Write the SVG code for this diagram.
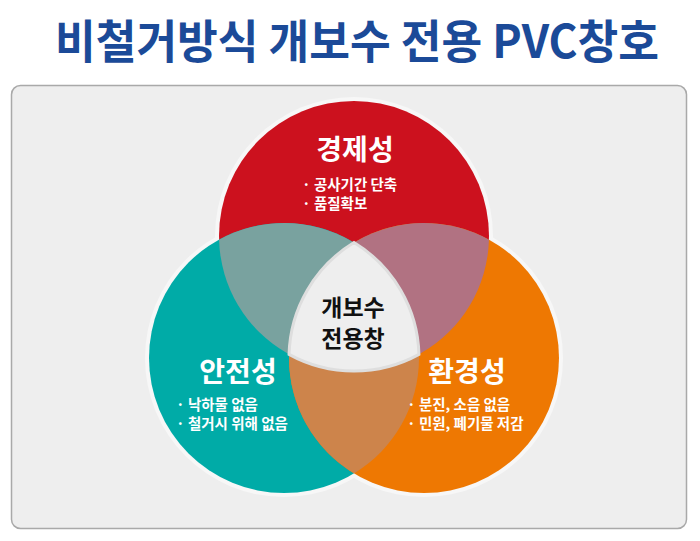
<svg xmlns="http://www.w3.org/2000/svg" width="700" height="541" viewBox="0 0 700 541">
<style>
.t{font-family:"Noto Sans CJK KR","Noto Sans",sans-serif;font-weight:bold}
.h{fill:#fff;font-size:28px;text-anchor:middle}
.b{fill:#fff;font-size:14.5px}
.c{fill:#111;font-size:23px;text-anchor:middle}
.halo{fill:#f7f7f7}
</style>
<rect width="700" height="541" fill="#fff"/>
<text class="t" x="357" y="58" font-size="46" fill="#1b4a98" text-anchor="middle" textLength="604" lengthAdjust="spacingAndGlyphs">비철거방식 개보수 전용 PVC창호</text>
<rect x="11.5" y="85.5" width="675" height="443" rx="9" fill="#eeeeee" stroke="#a9a9a9" stroke-width="1.5"/>
<g id="halo">
<circle class="halo" cx="354" cy="236" r="139"/>
<circle class="halo" cx="284" cy="358" r="139"/>
<circle class="halo" cx="424" cy="358" r="139"/>
</g>
<g id="node-red"><circle cx="354" cy="236" r="135" fill="#cc111e"/></g>
<g id="node-teal"><circle cx="284" cy="358" r="135" fill="#00aba7"/></g>
<g id="node-orange"><circle cx="424" cy="358" r="135" fill="#ee7802"/></g>
<g id="overlaps">
<path d="M219.06,239.65 A135,135 0 0 0 418.94,354.35 A135,135 0 0 0 219.06,239.65 Z" fill="#79a29f"/>
<path d="M488.94,239.65 A135,135 0 0 1 289.06,354.35 A135,135 0 0 1 488.94,239.65 Z" fill="#b17282"/>
<path d="M354,242.57 A135,135 0 0 1 354,473.43 A135,135 0 0 1 354,242.57 Z" fill="#cd844b"/>
</g>
<g id="node-center">
<path d="M354,242.57 A135,135 0 0 0 289.06,354.35 A135,135 0 0 0 418.94,354.35 A135,135 0 0 0 354,242.57 Z" fill="#eeeeee" stroke="#dedede" stroke-width="3"/>
<text class="t c" x="353" y="316">개보수</text>
<text class="t c" x="353" y="347">전용창</text>
</g>
<g id="label-red">
<text class="t h" x="355" y="160">경제성</text>
<text class="t b" x="302" y="190">· 공사기간 단축</text>
<text class="t b" x="302" y="209">· 품질확보</text>
</g>
<g id="label-teal">
<text class="t h" x="238" y="382">안전성</text>
<text class="t b" x="176" y="410">· 낙하물 없음</text>
<text class="t b" x="176" y="429">· 철거시 위해 없음</text>
</g>
<g id="label-orange">
<text class="t h" x="467" y="382">환경성</text>
<text class="t b" x="407" y="410">· 분진, 소음 없음</text>
<text class="t b" x="407" y="429">· 민원, 폐기물 저감</text>
</g>
<g id="connectors"/>
</svg>
